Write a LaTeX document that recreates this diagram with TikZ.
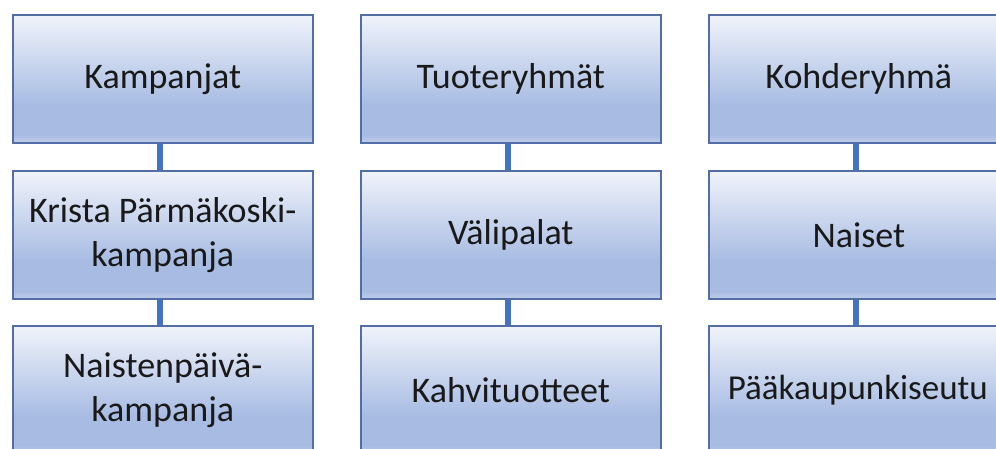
\documentclass[tikz,border=0pt]{standalone}
\usepackage{fontspec}
\setmainfont{Carlito}
\definecolor{gradtop}{RGB}{240,243,250}
\definecolor{graddark}{RGB}{168,188,227}
\definecolor{gradbot}{RGB}{192,205,234}
\definecolor{boxline}{RGB}{82,110,165}
\definecolor{linkblue}{RGB}{68,114,196}
\pgfdeclareverticalshading{officegrad}{100bp}{%
  color(0bp)=(gradbot); color(25bp)=(gradbot); color(28bp)=(graddark);
  color(40bp)=(graddark); color(75bp)=(gradtop); color(100bp)=(gradtop)}
\tikzset{
  cell/.style={draw=boxline, line width=1.6pt, shading=officegrad,
    minimum width=300pt, minimum height=128pt, anchor=north west,
    inner sep=0pt, align=center, text=black!90,
    font=\fontsize{36}{44}\selectfont},
  link/.style={draw=linkblue, line width=5.5pt}
}
\begin{document}
\begin{tikzpicture}[x=1pt,y=-1pt]
\useasboundingbox (0,0) rectangle (996,448);
\clip (0,0) rectangle (996,448);
% column 1: campaigns
\node[cell] (k0) at (12,14)  {Kampanjat};
\node[cell] (k1) at (12,170) {Krista Pärmäkoski-\\kampanja};
\node[cell] (k2) at (12,325) {Naistenpäivä-\\kampanja};
% column 2: product groups
\node[cell] (t0) at (360,14)  {Tuoteryhmät};
\node[cell] (t1) at (360,170) {Välipalat};
\node[cell] (t2) at (360,325) {Kahvituotteet};
% column 3: target group
\node[cell] (h0) at (708,14)  {Kohderyhmä};
\node[cell] (h1) at (708,170) {Naiset};
\node[cell,font=\fontsize{35}{42}\selectfont] (h2) at (708,325) {\hspace*{-2pt}Pääkaupunkiseutu};
% vertical connectors
\foreach \a/\b in {k0/k1,k1/k2,t0/t1,t1/t2,h0/h1,h1/h2}{
  \draw[link] ([xshift=-3pt]\a.south) -- ([xshift=-3pt]\b.north);
}
\end{tikzpicture}
\end{document}
